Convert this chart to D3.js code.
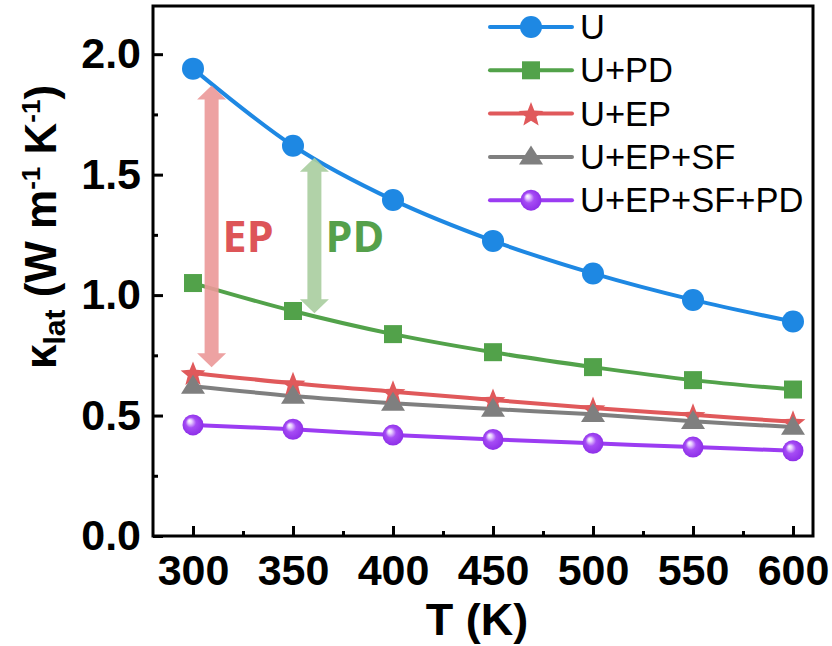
<!DOCTYPE html>
<html>
<head>
<meta charset="utf-8">
<script src="https://cdn.jsdelivr.net/npm/d3@7"></script>
<style>
  html, body { margin: 0; padding: 0; background: #fff; }
  svg { display: block; }
  text { font-family: "Liberation Sans", Arial, sans-serif; }
</style>
</head>
<body>
<svg id="chart" width="832" height="646"></svg>
<script>
// Temperature grid (K)
const temps = [300, 350, 400, 450, 500, 550, 600];

// Lattice thermal conductivity, W m^-1 K^-1
const kU        = [1.94, 1.62, 1.395, 1.225, 1.09, 0.98, 0.89];
const kUPD      = [1.05, 0.934, 0.838, 0.763, 0.701, 0.647, 0.608];
const kUEP      = [0.677, 0.634, 0.599, 0.565, 0.531, 0.503, 0.474];
const kUEPSF    = [0.622, 0.581, 0.551, 0.527, 0.505, 0.476, 0.452];
const kUEPSFPD  = [0.461, 0.443, 0.419, 0.401, 0.385, 0.369, 0.354];

const seriesNames = ["U", "U+PD", "U+EP", "U+EP+SF", "U+EP+SF+PD"];
const seriesValues = [kU, kUPD, kUEP, kUEPSF, kUEPSFPD];
const seriesColors = ["#1e88e3", "#52a24a", "#e0595b", "#7f7f7f", "#9b3cf2"];
const seriesMarkers = ["circle", "square", "star", "triangle", "sphere"];

const xMajorTicks = [300, 350, 400, 450, 500, 550, 600];
const xMinorTicks = [325, 375, 425, 475, 525, 575];
const yMajorTicks = [0, 0.5, 1.0, 1.5, 2.0];
const yMinorTicks = [0.25, 0.75, 1.25, 1.75];

// Annotation arrows: label, temperature position, top and bottom values
const arrowLabels = ["EP", "PD"];
const arrowT      = [309.3, 360.7];
const arrowTop    = [1.87, 1.57];
const arrowBottom = [0.70, 0.925];
const arrowFill   = ["#eb9898", "#a8cd9f"];
const arrowText   = ["#dd5558", "#55a04b"];

const svg = d3.select("#chart");
const plotL = 153, plotR = 813, plotT = 6, plotB = 536;

const x = d3.scaleLinear().domain([280, 610]).range([plotL, plotR]);
const y = d3.scaleLinear().domain([0, 2.2]).range([plotB, plotT]);

// gradient for the glossy sphere markers
const defs = svg.append("defs");
const grad = defs.append("radialGradient").attr("id", "sphereGrad")
  .attr("cx", "50%").attr("cy", "50%").attr("r", "55%")
  .attr("fx", "32%").attr("fy", "30%");
grad.append("stop").attr("offset", "0%").attr("stop-color", "#ffffff");
grad.append("stop").attr("offset", "18%").attr("stop-color", "#e6ccff");
grad.append("stop").attr("offset", "45%").attr("stop-color", "#a64cf5");
grad.append("stop").attr("offset", "100%").attr("stop-color", "#8a2be6");

// axes (ticks point inward)
const gx = svg.append("g").attr("transform", `translate(0,${plotB})`)
  .call(d3.axisBottom(x).tickValues(xMajorTicks).tickSize(-10).tickSizeOuter(0).tickPadding(18).tickFormat(d3.format("d")));
const gxm = svg.append("g").attr("transform", `translate(0,${plotB})`)
  .call(d3.axisBottom(x).tickValues(xMinorTicks).tickSize(-5).tickSizeOuter(0).tickFormat(""));
const gy = svg.append("g").attr("transform", `translate(${plotL},0)`)
  .call(d3.axisLeft(y).tickValues(yMajorTicks).tickSize(-10).tickSizeOuter(0).tickPadding(12).tickFormat(d3.format(".1f")));
const gym = svg.append("g").attr("transform", `translate(${plotL},0)`)
  .call(d3.axisLeft(y).tickValues(yMinorTicks).tickSize(-5).tickSizeOuter(0).tickFormat(""));

[gx, gxm, gy, gym].forEach(g => {
  g.selectAll("path.domain").remove();
  g.selectAll(".tick line").attr("stroke", "#000").attr("stroke-width", 3);
  g.selectAll(".tick text").attr("fill", "#000")
    .style("font-size", "43px").style("font-weight", "bold")
    .style("font-family", "'Liberation Sans', Arial, sans-serif");
});

// frame
svg.append("rect")
  .attr("x", plotL).attr("y", plotT)
  .attr("width", plotR - plotL).attr("height", plotB - plotT)
  .attr("fill", "none").attr("stroke", "#000").attr("stroke-width", 3);

// series lines
const line = d3.line()
  .x((d, i) => x(temps[i]))
  .y(d => y(d))
  .curve(d3.curveCatmullRom.alpha(0.5));

const linesG = svg.append("g");
seriesValues.forEach((vals, s) => {
  linesG.append("path")
    .attr("d", line(vals))
    .attr("fill", "none")
    .attr("stroke", seriesColors[s])
    .attr("stroke-width", 4);
});

// annotation arrows (semi-transparent double-headed)
function doubleArrow(cx, y1, y2, shaft, head, headLen) {
  const hs = shaft / 2, hh = head / 2;
  return `M${cx},${y1} L${cx + hh},${y1 + headLen} L${cx + hs},${y1 + headLen}
          L${cx + hs},${y2 - headLen} L${cx + hh},${y2 - headLen} L${cx},${y2}
          L${cx - hh},${y2 - headLen} L${cx - hs},${y2 - headLen}
          L${cx - hs},${y1 + headLen} L${cx - hh},${y1 + headLen} Z`;
}
const arrowsG = svg.append("g");
arrowLabels.forEach((lab, i) => {
  const cx = x(arrowT[i]);
  arrowsG.append("path")
    .attr("d", doubleArrow(cx, y(arrowTop[i]), y(arrowBottom[i]), 14, 29, 14))
    .attr("fill", arrowFill[i])
    .attr("opacity", 0.9);
  arrowsG.append("text")
    .attr("x", cx + 11)
    .attr("y", 252)
    .attr("fill", arrowText[i])
    .style("font-family", "'Open Sans', 'Noto Sans', sans-serif")
    .style("font-weight", "bold")
    .style("font-size", "43px")
    .text(lab);
});

// marker shapes
function drawMarker(g, type, cx, cy, color, scale) {
  const k = scale || 1;
  if (type === "circle") {
    g.append("circle").attr("cx", cx).attr("cy", cy).attr("r", 11 * k).attr("fill", color);
  } else if (type === "square") {
    const s = 18 * k;
    g.append("rect").attr("x", cx - s / 2).attr("y", cy - s / 2).attr("width", s).attr("height", s).attr("fill", color);
  } else if (type === "star") {
    const R = 13 * k, r = 5.6 * k;
    const pts = d3.range(10).map(j => {
      const a = -Math.PI / 2 + j * Math.PI / 5;
      const rad = j % 2 === 0 ? R : r;
      return [cx + rad * Math.cos(a), cy + 1.5 * k + rad * Math.sin(a)];
    });
    g.append("path").attr("d", "M" + pts.map(p => p.join(",")).join("L") + "Z").attr("fill", color);
  } else if (type === "triangle") {
    const w = 24 * k, h = 19 * k;
    g.append("path")
      .attr("d", `M${cx},${cy - h * 0.6} L${cx + w / 2},${cy + h * 0.4} L${cx - w / 2},${cy + h * 0.4} Z`)
      .attr("fill", color);
  } else if (type === "sphere") {
    g.append("circle").attr("cx", cx).attr("cy", cy).attr("r", 10.5 * k).attr("fill", "url(#sphereGrad)");
  }
}

const markersG = svg.append("g");
seriesValues.forEach((vals, s) => {
  vals.forEach((v, i) => drawMarker(markersG, seriesMarkers[s], x(temps[i]), y(v), seriesColors[s]));
});

// legend
const legendG = svg.append("g");
const legX0 = 490, legX1 = 572, legTextX = 580, legY0 = 27, legDy = 43.3;
seriesNames.forEach((name, s) => {
  const ly = legY0 + s * legDy;
  legendG.append("line")
    .attr("x1", legX0).attr("x2", legX1).attr("y1", ly).attr("y2", ly)
    .attr("stroke", seriesColors[s]).attr("stroke-width", 4).attr("stroke-linecap", "round");
  drawMarker(legendG, seriesMarkers[s], (legX0 + legX1) / 2, ly, seriesColors[s]);
  legendG.append("text")
    .attr("x", legTextX).attr("y", ly + 12)
    .style("font-size", "34.5px")
    .attr("fill", "#000")
    .text(name);
});

// axis titles
svg.append("text")
  .attr("x", (plotL + plotR) / 2 - 6).attr("y", 635)
  .attr("text-anchor", "middle")
  .style("font-size", "45px").style("font-weight", "bold")
  .text("T (K)");

const yt = svg.append("text")
  .attr("transform", "translate(56,227) rotate(-90)")
  .attr("text-anchor", "middle")
  .style("font-size", "44px").style("font-weight", "bold");
yt.append("tspan").text("κ");
yt.append("tspan").attr("dy", 9).style("font-size", "30px").text("lat");
yt.append("tspan").attr("dy", -9).text(" (W m");
yt.append("tspan").attr("dy", -16).style("font-size", "26px").text("-1");
yt.append("tspan").attr("dy", 16).text(" K");
yt.append("tspan").attr("dy", -16).style("font-size", "26px").text("-1");
yt.append("tspan").attr("dy", 16).text(")");
</script>
</body>
</html>
